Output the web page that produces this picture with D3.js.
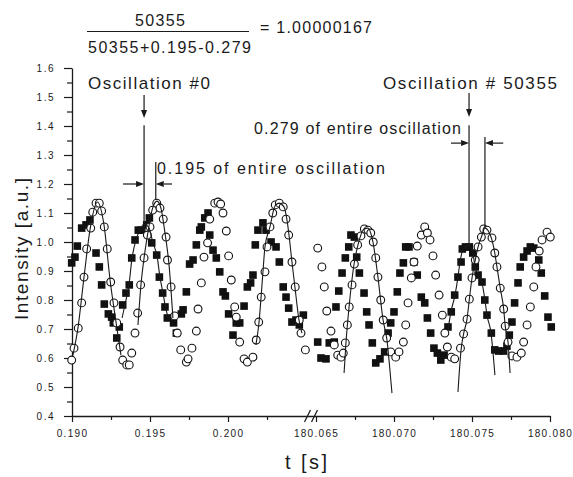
<!DOCTYPE html>
<html>
<head>
<meta charset="utf-8">
<script src="https://cdn.jsdelivr.net/npm/d3@7"></script>
<style>
  html, body { margin: 0; padding: 0; background: #fff; }
  svg { display: block; }
  text { font-family: Arial, "Liberation Sans", sans-serif; fill: #1a1a1a; }
</style>
</head>
<body>
<div id="chart"></div>
<script>
// open circles: t [s], intensity [a.u.]
const circleT = [
  0.18998, 0.19013, 0.19040, 0.19062, 0.19077, 0.19094, 0.19120, 0.19133, 0.19154, 0.19175,
  0.19190, 0.19207, 0.19226, 0.19248, 0.19269, 0.19287, 0.19308, 0.19325, 0.19351, 0.19367,
  0.19383, 0.19404, 0.19421, 0.19440, 0.19462, 0.19483, 0.19500, 0.19517, 0.19543, 0.19564,
  0.19585, 0.19603, 0.19612, 0.19635, 0.19658, 0.19675, 0.19697, 0.19733, 0.19744, 0.19769,
  0.19797, 0.19808, 0.19829, 0.19846, 0.19869, 0.19883, 0.19915, 0.19936, 0.19953, 0.19968,
  0.19989, 0.20004, 0.20021, 0.20043, 0.20053, 0.20075, 0.20103, 0.20124, 0.20160, 0.20181,
  0.20197, 0.20213, 0.20237, 0.20250, 0.20269, 0.20287, 0.20303, 0.20329, 0.20354, 0.20372,
  0.20389, 0.20410, 0.20431, 0.20457, 0.20468, 0.20496,
  180.06511, 180.06538, 180.06553, 180.06569, 180.06596, 180.06617, 180.06639, 180.06660, 180.06675, 180.06688,
  180.06701, 180.06713, 180.06731, 180.06746, 180.06767, 180.06788, 180.06810, 180.06833, 180.06851, 180.06867,
  180.06883, 180.06897, 180.06915, 180.06931, 180.06953, 180.06979, 180.07011, 180.07032, 180.07060, 180.07075,
  180.07090, 180.07111, 180.07128, 180.07149, 180.07175, 180.07197, 180.07214, 180.07231, 180.07250, 180.07267,
  180.07289, 180.07310, 180.07326, 180.07342, 180.07367, 180.07389, 180.07426, 180.07446, 180.07468, 180.07483,
  180.07500, 180.07521, 180.07539, 180.07560, 180.07575, 180.07596, 180.07628, 180.07646, 180.07660, 180.07681,
  180.07703, 180.07713, 180.07731, 180.07756, 180.07788, 180.07816, 180.07831, 180.07853, 180.07874, 180.07896,
  180.07910, 180.07931, 180.07949, 180.07981, 180.08002
];
const circleI = [
  0.593, 0.634, 0.703, 0.790, 0.879, 0.976, 1.048, 1.103, 1.134, 1.134,
  1.107, 1.052, 0.976, 0.862, 0.790, 0.721, 0.638, 0.593, 0.576, 0.576,
  0.617, 0.686, 0.755, 0.852, 0.945, 1.024, 1.052, 1.110, 1.134, 1.117,
  1.079, 1.017, 0.938, 0.845, 0.745, 0.686, 0.628, 0.586, 0.597, 0.634,
  0.693, 0.769, 0.859, 0.948, 0.997, 1.079, 1.134, 1.138, 1.131, 1.100,
  1.038, 0.952, 0.869, 0.776, 0.741, 0.655, 0.597, 0.586, 0.603, 0.662,
  0.724, 0.810, 0.897, 0.983, 1.052, 1.100, 1.128, 1.134, 1.121, 1.079,
  1.024, 0.931, 0.845, 0.731, 0.686, 0.628,
  0.979, 0.914, 0.845, 0.762, 0.693, 0.645, 0.610, 0.603, 0.617, 0.652,
  0.714, 0.776, 0.852, 0.924, 0.990, 1.021, 1.045, 1.041, 1.031, 1.000,
  0.945, 0.879, 0.800, 0.731, 0.669, 0.621, 0.603, 0.621, 0.655, 0.714,
  0.790, 0.876, 0.931, 0.986, 1.024, 1.052, 1.031, 1.007, 0.952, 0.886,
  0.817, 0.748, 0.686, 0.638, 0.603, 0.597, 0.634, 0.683, 0.734, 0.803,
  0.876, 0.938, 0.983, 1.017, 1.045, 1.041, 1.014, 0.962, 0.914, 0.841,
  0.769, 0.710, 0.655, 0.607, 0.603, 0.617, 0.655, 0.714, 0.776, 0.845,
  0.914, 0.969, 1.007, 1.034, 1.017
];

// filled squares
const squareT = [
  0.18998, 0.19019, 0.19034, 0.19062, 0.19090, 0.19115, 0.19154, 0.19175, 0.19190, 0.19207,
  0.19233, 0.19254, 0.19265, 0.19287, 0.19303, 0.19325, 0.19346, 0.19367, 0.19383, 0.19404,
  0.19425, 0.19447, 0.19479, 0.19496, 0.19511, 0.19543, 0.19560, 0.19581, 0.19596, 0.19611,
  0.19651, 0.19669, 0.19701, 0.19712, 0.19733, 0.19754, 0.19776, 0.19797, 0.19819, 0.19829,
  0.19851, 0.19872, 0.19883, 0.19904, 0.19925, 0.19947, 0.19968, 0.19983, 0.20004, 0.20032,
  0.20053, 0.20075, 0.20103, 0.20124, 0.20145, 0.20160, 0.20175, 0.20192, 0.20224, 0.20244,
  0.20276, 0.20308, 0.20329, 0.20354, 0.20372, 0.20389, 0.20410, 0.20436, 0.20457, 0.20483,
  180.06511, 180.06532, 180.06564, 180.06585, 180.06617, 180.06628, 180.06646, 180.06667, 180.06688, 180.06710,
  180.06724, 180.06746, 180.06761, 180.06778, 180.06808, 180.06825, 180.06840, 180.06861, 180.06883, 180.06910,
  180.06940, 180.06962, 180.06979, 180.07000, 180.07021, 180.07038, 180.07060, 180.07075, 180.07096, 180.07128,
  180.07149, 180.07175, 180.07197, 180.07214, 180.07235, 180.07256, 180.07278, 180.07300, 180.07321, 180.07346,
  180.07367, 180.07389, 180.07410, 180.07430, 180.07438, 180.07458, 180.07483, 180.07505, 180.07521, 180.07539,
  180.07564, 180.07582, 180.07596, 180.07624, 180.07646, 180.07671, 180.07703, 180.07724, 180.07739, 180.07756,
  180.07773, 180.07795, 180.07809, 180.07831, 180.07853, 180.07874, 180.07896, 180.07928, 180.07944, 180.07966,
  180.07987, 180.08008
];
const squareI = [
  0.928, 0.948, 0.986, 1.048, 1.059, 1.076, 0.962, 0.914, 0.852, 0.786,
  0.752, 0.741, 0.721, 0.669, 0.707, 0.783, 0.824, 0.852, 0.945, 1.007,
  1.041, 1.041, 1.059, 1.083, 0.997, 0.955, 0.879, 0.824, 0.776, 0.738,
  0.721, 0.686, 0.752, 0.766, 0.828, 0.924, 0.938, 0.990, 1.041, 1.052,
  1.083, 1.100, 1.024, 0.972, 0.945, 0.897, 0.828, 0.814, 0.752, 0.679,
  0.721, 0.721, 0.779, 0.845, 0.859, 0.886, 0.990, 1.041, 1.066, 1.041,
  1.000, 0.983, 0.931, 0.845, 0.810, 0.772, 0.724, 0.731, 0.714, 0.748,
  0.655, 0.600, 0.597, 0.652, 0.655, 0.776, 0.831, 0.893, 0.945, 0.983,
  1.024, 1.017, 0.948, 0.893, 0.824, 0.759, 0.714, 0.652, 0.583, 0.597,
  0.621, 0.686, 0.721, 0.759, 0.828, 0.893, 0.928, 0.983, 0.983, 0.931,
  0.886, 0.810, 0.790, 0.738, 0.686, 0.634, 0.617, 0.593, 0.610, 0.707,
  0.759, 0.817, 0.879, 0.931, 0.976, 0.983, 0.983, 0.962, 0.914, 0.886,
  0.862, 0.800, 0.748, 0.686, 0.628, 0.624, 0.624, 0.641, 0.679, 0.724,
  0.790, 0.859, 0.914, 0.948, 0.969, 0.983, 0.979, 0.938, 0.893, 0.814,
  0.741, 0.707
];

// fitted curves, [t, intensity]
const fitA = [[0.19006, 0.610], [0.19038, 0.703], [0.19077, 0.879], [0.19115, 1.041], [0.19163, 1.138],
  [0.19205, 1.059], [0.19244, 0.869], [0.19282, 0.724], [0.19314, 0.610]];
const fitB = [[0.19321, 0.738], [0.19346, 0.800], [0.19365, 0.852], [0.19385, 0.945], [0.19410, 1.007],
  [0.19436, 1.041], [0.19462, 1.062], [0.19494, 1.048], [0.19519, 0.997], [0.19545, 0.952],
  [0.19564, 0.879], [0.19583, 0.824], [0.19603, 0.766], [0.19622, 0.731]];
const fitC = [[0.19423, 0.714], [0.19442, 0.852], [0.19462, 0.945], [0.19487, 1.034], [0.19513, 1.110],
  [0.19545, 1.141], [0.19570, 1.117], [0.19596, 1.031], [0.19622, 0.921], [0.19647, 0.738]];
const fitD = [[0.20179, 0.645], [0.20199, 0.724], [0.20212, 0.810], [0.20224, 0.897], [0.20237, 0.983],
  [0.20269, 1.052], [0.20301, 1.124], [0.20327, 1.134], [0.20359, 1.121], [0.20378, 1.076],
  [0.20391, 1.024], [0.20410, 0.931], [0.20429, 0.845], [0.20455, 0.731], [0.20474, 0.686]];
const fitE = [[180.06680, 0.548], [180.06692, 0.652], [180.06712, 0.776], [180.06744, 0.924], [180.06769, 0.990],
  [180.06808, 1.045], [180.06833, 1.048], [180.06865, 1.000], [180.06897, 0.879], [180.06930, 0.731],
  [180.06955, 0.662], [180.06971, 0.576], [180.06987, 0.479]];
const fitF = [[180.07346, 0.697], [180.07365, 0.759], [180.07391, 0.817], [180.07410, 0.879], [180.07423, 0.931],
  [180.07442, 0.972], [180.07481, 0.990], [180.07506, 0.962], [180.07519, 0.914], [180.07539, 0.886],
  [180.07564, 0.859], [180.07583, 0.800], [180.07596, 0.748], [180.07622, 0.686], [180.07647, 0.541]];
const fitG = [[180.07410, 0.483], [180.07430, 0.628], [180.07446, 0.683], [180.07468, 0.734], [180.07483, 0.803],
  [180.07500, 0.876], [180.07521, 0.938], [180.07539, 0.983], [180.07560, 1.017], [180.07583, 1.048],
  [180.07609, 1.034], [180.07628, 1.007], [180.07646, 0.962], [180.07660, 0.914], [180.07681, 0.841],
  [180.07703, 0.769], [180.07713, 0.710], [180.07731, 0.655], [180.07744, 0.548]];

// peak markers: time, top and bottom of the vertical line
const markerT = [0.19462, 0.19537, 180.07481, 180.07583];
const markerTop = [1.403, 1.276, 1.403, 1.362];
const markerBottom = [1.034, 1.145, 0.983, 1.048];
const arrowLevel = [1.20, 1.341];
const arrowStartT = [0.19327, 0.19641, 180.07365, 180.07700];

// axes
const xMajor = [0.190, 0.195, 0.200, 180.065, 180.070, 180.075, 180.080];
const xLabels = ['0.190', '0.195', '0.200', '180.065', '180.070', '180.075', '180.080'];
const xMinor = [0.1925, 0.1975, 0.2025, 180.0675, 180.0725, 180.0775];
const yMajor = [0.4, 0.5, 0.6, 0.7, 0.8, 0.9, 1.0, 1.1, 1.2, 1.3, 1.4, 1.5, 1.6];
const yMinor = [0.45, 0.55, 0.65, 0.75, 0.85, 0.95, 1.05, 1.15, 1.25, 1.35, 1.45, 1.55];

const width = 573, height = 477;
const ink = '#1a1a1a';

const svg = d3.select('#chart').append('svg')
  .attr('width', width)
  .attr('height', height);

svg.append('rect').attr('width', width).attr('height', height).attr('fill', '#fff');

// broken time axis: two linear pieces
const x = d3.scaleLinear()
  .domain([0.190, 0.205, 180.065, 180.080])
  .range([72, 306, 316, 550]);
const y = d3.scaleLinear().domain([0.4, 1.6]).range([416, 68]);

function styleAxis(g) {
  g.attr('font-family', 'Arial, "Liberation Sans", sans-serif');
  g.selectAll('.domain').attr('stroke', ink).attr('stroke-width', 1.3);
  g.selectAll('.tick line').attr('stroke', ink).attr('stroke-width', 1.2);
  g.selectAll('.tick text').attr('fill', '#222').style('font-size', '10px');
}

const xAxis = svg.append('g')
  .attr('transform', 'translate(0,416)')
  .call(d3.axisBottom(x).tickValues(xMajor).tickFormat((d, i) => xLabels[i])
    .tickSize(6).tickSizeOuter(0).tickPadding(8))
  .call(styleAxis);
xAxis.selectAll('.tick text').style('letter-spacing', '1.3px');

svg.append('g')
  .attr('transform', 'translate(0,416)')
  .call(d3.axisBottom(x).tickValues(xMinor).tickFormat('').tickSize(4))
  .call(styleAxis)
  .call(g => g.select('.domain').remove());

const yAxis = svg.append('g')
  .attr('transform', 'translate(72,0)')
  .call(d3.axisLeft(y).tickValues(yMajor).tickFormat(d3.format('.1f'))
    .tickSize(8).tickSizeOuter(0).tickPadding(9))
  .call(styleAxis);
yAxis.selectAll('.tick text').style('letter-spacing', '1.5px');

svg.append('g')
  .attr('transform', 'translate(72,0)')
  .call(d3.axisLeft(y).tickValues(yMinor).tickFormat('').tickSize(5))
  .call(styleAxis)
  .call(g => g.select('.domain').remove());

// break marks on the time axis
const xb = (x(0.205) + x(180.065)) / 2;
[-3.5, 3.5].forEach(dx => {
  svg.append('line')
    .attr('x1', xb + dx - 3).attr('y1', 422)
    .attr('x2', xb + dx + 3).attr('y2', 410)
    .attr('stroke', ink).attr('stroke-width', 1.2);
});

// axis titles
svg.append('text')
  .attr('transform', 'translate(28,249) rotate(-90)')
  .attr('text-anchor', 'middle')
  .attr('textLength', 142).attr('lengthAdjust', 'spacing')
  .style('font-size', '19px')
  .text('Intensity [a.u.]');

svg.append('text')
  .attr('x', 285).attr('y', 469)
  .attr('textLength', 42).attr('lengthAdjust', 'spacing')
  .style('font-size', '20px')
  .text('t [s]');

// data
const squares = squareT.map((t, i) => ({ t: t, v: squareI[i] }));
const circles = circleT.map((t, i) => ({ t: t, v: circleI[i] }));

svg.append('g').selectAll('rect')
  .data(squares)
  .enter()
  .append('rect')
  .attr('x', d => x(d.t) - 3.8)
  .attr('y', d => y(d.v) - 3.8)
  .attr('width', 7.6)
  .attr('height', 7.6)
  .attr('fill', '#111');

svg.append('g').selectAll('circle')
  .data(circles)
  .enter()
  .append('circle')
  .attr('cx', d => x(d.t))
  .attr('cy', d => y(d.v))
  .attr('r', 3.9)
  .attr('fill', '#fff')
  .attr('stroke', '#111')
  .attr('stroke-width', 1.1);

const line = d3.line()
  .x(d => x(d[0]))
  .y(d => y(d[1]))
  .curve(d3.curveMonotoneX);

svg.append('g').selectAll('path')
  .data([fitA, fitB, fitC, fitD, fitE, fitF, fitG])
  .enter()
  .append('path')
  .attr('d', line)
  .attr('fill', 'none')
  .attr('stroke', ink)
  .attr('stroke-width', 1.1);

// annotations
markerT.forEach((t, i) => {
  svg.append('line')
    .attr('x1', x(t)).attr('x2', x(t))
    .attr('y1', y(markerTop[i])).attr('y2', y(markerBottom[i]))
    .attr('stroke', ink).attr('stroke-width', 1.2);
});

function arrow(x1, y1, x2, y2) {
  const a = Math.atan2(y2 - y1, x2 - x1);
  const len = 8, hw = 3;
  const bx = x2 - len * Math.cos(a), by = y2 - len * Math.sin(a);
  svg.append('line')
    .attr('x1', x1).attr('y1', y1).attr('x2', bx).attr('y2', by)
    .attr('stroke', ink).attr('stroke-width', 1.2);
  svg.append('path')
    .attr('d', `M${x2},${y2}L${bx - hw * Math.sin(a)},${by + hw * Math.cos(a)}L${bx + hw * Math.sin(a)},${by - hw * Math.cos(a)}Z`)
    .attr('fill', ink);
}

// arrows pointing down at each oscillation
arrow(x(markerT[0]), y(1.507), x(markerT[0]), y(1.428));
arrow(x(markerT[2]), y(1.514), x(markerT[2]), y(1.431));
// phase-shift arrows
arrow(x(arrowStartT[0]), y(arrowLevel[0]), x(markerT[0]), y(arrowLevel[0]));
arrow(x(arrowStartT[1]), y(arrowLevel[0]), x(markerT[1]), y(arrowLevel[0]));
arrow(x(arrowStartT[2]), y(arrowLevel[1]), x(markerT[2]), y(arrowLevel[1]));
arrow(x(arrowStartT[3]), y(arrowLevel[1]), x(markerT[3]), y(arrowLevel[1]));

function label(txt, px, py, size, len) {
  svg.append('text')
    .attr('x', px).attr('y', py)
    .attr('textLength', len).attr('lengthAdjust', 'spacing')
    .style('font-size', size + 'px')
    .text(txt);
}

label('Oscillation #0', 88, 89, 17, 122);
label('Oscillation # 50355', 383, 89, 17, 174);
label('0.279 of entire oscillation', 254, 134, 16, 207);
label('0.195 of entire oscillation', 157, 174, 16, 228);

// ratio at the top
label('50355', 135, 26, 16, 50);
svg.append('line')
  .attr('x1', 87).attr('x2', 249).attr('y1', 31.5).attr('y2', 31.5)
  .attr('stroke', ink).attr('stroke-width', 1.2);
label('50355+0.195-0.279', 88, 53, 16, 163);
label('= 1.00000167', 260, 33, 16, 112);
</script>
</body>
</html>
